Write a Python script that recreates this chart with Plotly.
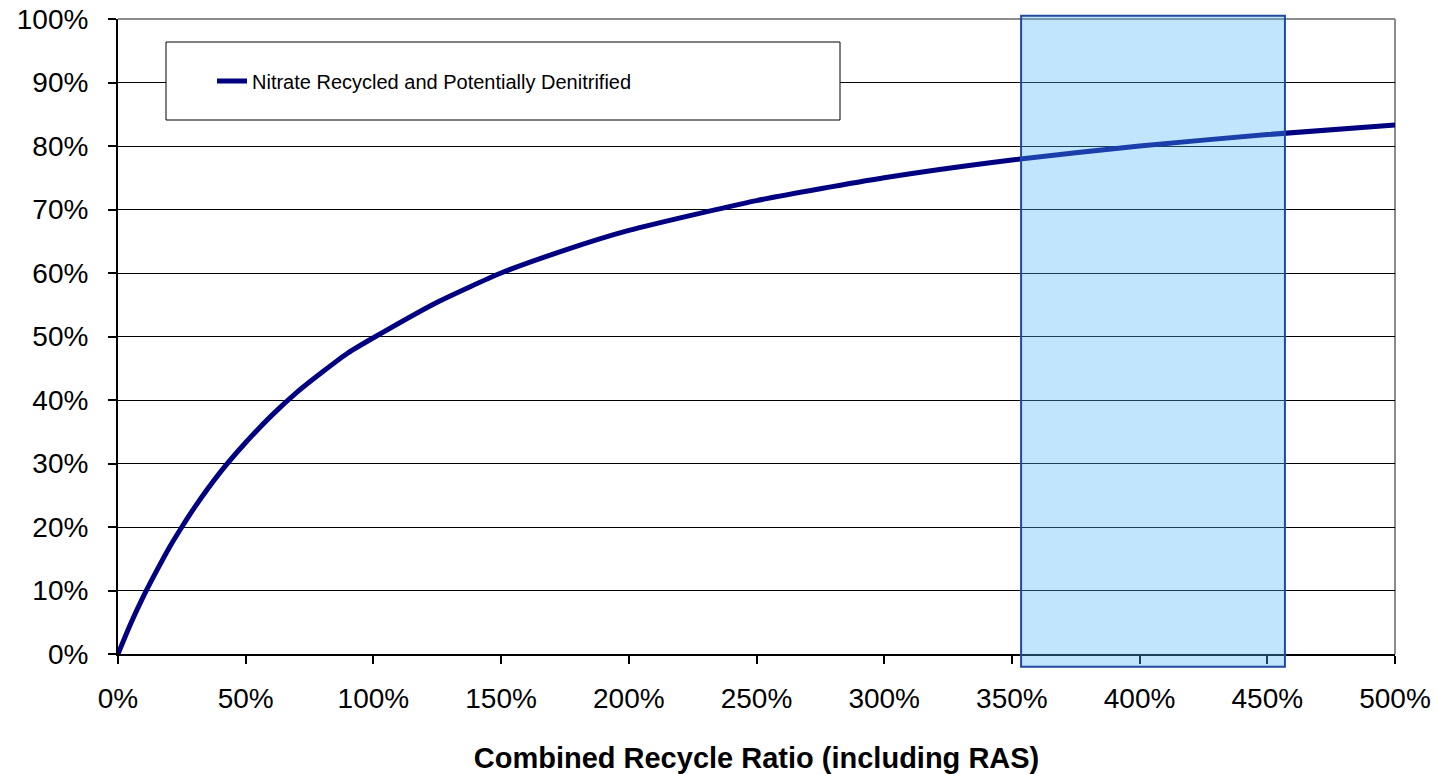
import plotly.graph_objects as go

# Combined recycle ratio (%) and fraction of nitrate recycled (%)
recycle_ratio = [0, 5, 10, 15, 20, 25, 30, 40, 50, 60, 70, 80, 90, 100,
                 125, 150, 175, 200, 250, 300, 350, 400, 450, 500]
nitrate_recycled = [0, 4.8, 9.1, 13.0, 16.7, 20.0, 23.1, 28.6, 33.3, 37.5, 41.2, 44.4, 47.4, 49.8,
                    55.4, 60.0, 63.6, 66.7, 71.4, 75.0, 77.8, 80.0, 81.8, 83.3]

x_ticks = [0, 50, 100, 150, 200, 250, 300, 350, 400, 450, 500]
x_ticktext = [f"{v}%" for v in x_ticks]
y_ticks = [0, 10, 20, 30, 40, 50, 60, 70, 80, 90, 100]
y_ticktext = [f"{v}%" for v in y_ticks]

# highlighted operating range (x in recycle %, y in nitrate %)
band_x = [353.6, 456.9]
band_y = [-2.0, 100.5]

series_name = "Nitrate Recycled and Potentially Denitrified"
x_title = "Combined Recycle Ratio (including RAS)"

X_RANGE = [0, 500]
Y_RANGE = [0, 100]
FONT = "Arial, 'Liberation Sans', sans-serif"

fig = go.Figure()

fig.add_trace(go.Scatter(
    x=recycle_ratio,
    y=nitrate_recycled,
    mode="lines",
    name=series_name,
    line=dict(color="#000080", width=5, shape="spline", smoothing=0.6),
    showlegend=True,
))

# legend frame (plot area is 1277 x 635 px)
fig.add_shape(
    type="rect", xref="paper", yref="paper",
    x0=48 / 1277, x1=722 / 1277,
    y0=(635 - 101) / 635, y1=(635 - 23) / 635,
    line=dict(color="#000000", width=1), fillcolor="white", layer="above",
)


# shaded range, in paper coords so it can poke past the plot edges
def to_paper(v, rng):
    return (v - rng[0]) / (rng[1] - rng[0])


fig.add_shape(
    type="rect", xref="paper", yref="paper",
    x0=to_paper(band_x[0], X_RANGE), x1=to_paper(band_x[1], X_RANGE),
    y0=to_paper(band_y[0], Y_RANGE), y1=to_paper(band_y[1], Y_RANGE),
    fillcolor="rgba(74,180,248,0.35)",
    line=dict(color="#1f4aa0", width=2), layer="above",
)

# top and right plot border
fig.add_shape(type="line", xref="paper", yref="paper", x0=0, x1=1, y0=1, y1=1,
              line=dict(color="#8c8c8c", width=2), layer="below")
fig.add_shape(type="line", xref="paper", yref="paper", x0=1, x1=1, y0=0, y1=1,
              line=dict(color="#8c8c8c", width=2), layer="below")

fig.update_layout(
    width=1437, height=774,
    margin=dict(l=118, r=42, t=19, b=120),
    paper_bgcolor="white",
    plot_bgcolor="white",
    font=dict(family=FONT, color="#000000", size=28),
    xaxis=dict(
        range=X_RANGE, tickvals=x_ticks, ticktext=x_ticktext,
        showgrid=False, zeroline=False, automargin=False,
        ticklabeloverflow="allow",
        showline=True, linecolor="#000000", linewidth=2,
        ticks="outside", ticklen=8, tickcolor="#000000", tickwidth=2,
        ticklabelstandoff=10,
        tickfont=dict(size=28),
        title=dict(text="<b>" + x_title + "</b>", font=dict(size=29), standoff=38),
    ),
    yaxis=dict(
        range=Y_RANGE, tickvals=y_ticks, ticktext=y_ticktext,
        showgrid=True, gridcolor="#000000", gridwidth=1,
        zeroline=False, automargin=False,
        ticklabeloverflow="allow",
        showline=True, linecolor="#000000", linewidth=2,
        ticks="outside", ticklen=8, tickcolor="#000000", tickwidth=2,
        ticklabelstandoff=14,
        tickfont=dict(size=28),
    ),
    legend=dict(
        x=94 / 1277, y=(635 - 62) / 635,
        xanchor="left", yanchor="middle",
        bgcolor="rgba(0,0,0,0)", borderwidth=0,
        font=dict(size=20, family=FONT),
    ),
)

# drop the default body margin so the figure sits flush in the window
fig.write_html(
    "out.html",
    config={"displayModeBar": False},
    post_script="document.body.style.margin='0';",
)
